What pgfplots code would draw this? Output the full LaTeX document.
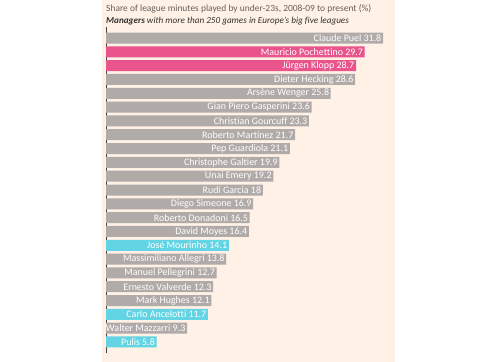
\documentclass[border=0pt]{standalone}
\usepackage{pgfplots}
\pgfplotsset{compat=1.18}
\usepackage{pgfplotstable}
\usepackage{fontspec}
\setmainfont{Carlito}[RawFeature={-liga}]
\definecolor{ftpaper}{HTML}{FFF1E5}
\definecolor{bargrey}{HTML}{B0AAA8}
\definecolor{barpink}{HTML}{E9548C}
\definecolor{barcyan}{HTML}{62D4E4}
\definecolor{titlegrey}{HTML}{66605C}
\definecolor{subgrey}{HTML}{33302E}

\pgfplotstableread[col sep=comma]{
i,v,lab
0,31.8,Claude Puel 31.8
3,28.6,Dieter Hecking 28.6
4,25.8,Arsène Wenger 25.8
5,23.6,Gian Piero Gasperini 23.6
6,23.3,Christian Gourcuff 23.3
7,21.7,Roberto Martínez 21.7
8,21.1,Pep Guardiola 21.1
9,19.9,Christophe Galtier 19.9
10,19.2,Unai Emery 19.2
11,18,Rudi Garcia 18
12,16.9,Diego Simeone 16.9
13,16.5,Roberto Donadoni 16.5
14,16.4,David Moyes 16.4
16,13.8,Massimiliano Allegri 13.8
17,12.7,Manuel Pellegrini 12.7
18,12.3,Ernesto Valverde 12.3
19,12.1,Mark Hughes 12.1
21,9.3,Walter Mazzarri 9.3
}\greydata

\pgfplotstableread[col sep=comma]{
i,v,lab
1,29.7,Mauricio Pochettino 29.7
2,28.7,Jürgen Klopp 28.7
}\pinkdata

\pgfplotstableread[col sep=comma]{
i,v,lab
15,14.1,José Mourinho 14.1
20,11.7,Carlo Ancelotti 11.7
22,5.8,Pulis 5.8
}\cyandata

\begin{document}
\begin{tikzpicture}
\fill[white] (0,0) rectangle (500bp,362bp);
\fill[ftpaper] (102bp,0) rectangle (395bp,362bp);
\useasboundingbox (0,0) rectangle (500bp,362bp);
\node[anchor=base west, text=titlegrey, font=\fontsize{9.5}{10}\selectfont, inner sep=0pt] at (106bp,350bp)
  {Share of league minutes played by under-23s, 2008-09 to present (\%)};
\node[anchor=base west, text=subgrey, font=\fontsize{9.2}{10}\selectfont\itshape, inner sep=0pt] at (106bp,338bp)
  {\textbf{Managers} with more than 250 games in Europe's big five leagues};
\begin{axis}[
  at={(106bp,9bp)}, anchor=south west,
  scale only axis, width=277bp, height=326bp,
  xmin=0, xmax=31.8, ymin=-0.8, ymax=22.8,
  y dir=reverse,
  xbar, bar width=11bp,
  hide x axis,
  axis y line*=left,
  y axis line style={black!75, line width=0.8bp},
  ytick=\empty,
  point meta=explicit symbolic,
  nodes near coords,
  nodes near coords style={anchor=east, text=white, font=\fontsize{10}{10}\selectfont, xshift=-1.5bp, inner sep=0pt},
  clip=false,
]
\addplot[fill=bargrey, draw=none, bar shift=0pt] table[x=v, y=i, meta=lab] {\greydata};
\addplot[fill=barpink, draw=none, bar shift=0pt] table[x=v, y=i, meta=lab] {\pinkdata};
\addplot[fill=barcyan, draw=none, bar shift=0pt] table[x=v, y=i, meta=lab] {\cyandata};
\end{axis}
\end{tikzpicture}
\end{document}
